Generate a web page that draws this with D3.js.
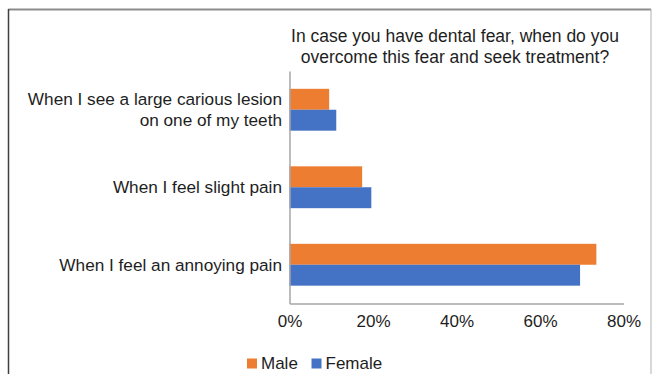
<!DOCTYPE html>
<html>
<head>
<meta charset="utf-8">
<script src="https://cdn.jsdelivr.net/npm/d3@7"></script>
<style>
  html, body { margin: 0; padding: 0; background: #fff; }
  svg { display: block; font-family: "Liberation Sans", Arial, sans-serif; }
</style>
</head>
<body>
<svg id="chart" width="655" height="374"></svg>
<script>
// Answer options (top to bottom), each label split into its display lines
const categories = [
  ["When I see a large carious lesion", "on one of my teeth"],
  ["When I feel slight pain"],
  ["When I feel an annoying pain"]
];
const seriesNames = ["Male", "Female"];
const maleValues = [0.095, 0.174, 0.735];
const femaleValues = [0.112, 0.196, 0.696];
const tickValues = [0, 0.2, 0.4, 0.6, 0.8];
const titleLines = [
  "In case you have dental fear, when do you",
  "overcome this fear and seek treatment?"
];
const colors = { Male: "#ED7D31", Female: "#4472C4" };

const svg = d3.select("#chart");
const textColor = "#1e1e1e";

// Outer frame
svg.append("line").attr("x1", 8.5).attr("x2", 651).attr("y1", 9.5).attr("y2", 9.5)
  .attr("stroke", "#8c8c8c").attr("stroke-width", 2);
svg.append("line").attr("x1", 8.5).attr("x2", 8.5).attr("y1", 9).attr("y2", 374)
  .attr("stroke", "#404040").attr("stroke-width", 1.5);
svg.append("line").attr("x1", 651).attr("x2", 651).attr("y1", 9).attr("y2", 374)
  .attr("stroke", "#b0b0b0").attr("stroke-width", 1);

// Title
const title = svg.append("text")
  .attr("text-anchor", "middle")
  .attr("font-size", 17.5)
  .attr("fill", textColor);
titleLines.forEach((t, i) => {
  title.append("tspan").attr("x", 455).attr("y", 41.5 + i * 21).text(t);
});

// Scales
const x = d3.scaleLinear().domain([0, 0.8]).range([289.5, 623.5]);
const y = d3.scaleBand()
  .domain(d3.range(categories.length))
  .range([71, 303.5])
  .paddingInner(0.46)
  .paddingOuter(0.23);
const ySub = d3.scaleBand().domain(seriesNames).range([0, y.bandwidth()]);

const rows = categories.map((c, i) => ({
  i,
  values: [
    { key: "Male", value: maleValues[i] },
    { key: "Female", value: femaleValues[i] }
  ]
}));

// Bars
const groups = svg.append("g").selectAll("g").data(rows).join("g")
  .attr("transform", d => `translate(0,${y(d.i)})`);
groups.selectAll("rect").data(d => d.values).join("rect")
  .attr("x", x(0))
  .attr("y", d => ySub(d.key))
  .attr("width", d => x(d.value) - x(0))
  .attr("height", ySub.bandwidth())
  .attr("fill", d => colors[d.key]);

// Axes
const xAxis = d3.axisBottom(x).tickValues(tickValues)
  .tickFormat(d3.format(".0%")).tickSize(0).tickPadding(11);
const gx = svg.append("g").attr("transform", `translate(0,${y.range()[1]})`).call(xAxis);
gx.select(".domain").attr("stroke", "#a6a6a6").attr("stroke-width", 1.5);
gx.selectAll("text").attr("font-size", 17).attr("fill", textColor)
  .attr("font-family", "'Liberation Sans', Arial, sans-serif");

const gy = svg.append("g").attr("transform", `translate(${x(0)},0)`)
  .call(d3.axisLeft(y).tickSize(0).tickFormat(""));
gy.select(".domain").attr("stroke", "#a6a6a6").attr("stroke-width", 1.5);

// Category labels (multi-line, right aligned)
const labels = svg.append("g").attr("font-size", 17.2).attr("fill", textColor)
  .attr("text-anchor", "end");
categories.forEach((lines, i) => {
  const cy = y(i) + y.bandwidth() / 2;
  const lh = 21;
  const t = labels.append("text");
  lines.forEach((ln, j) => {
    t.append("tspan").attr("x", 282)
      .attr("y", cy + 6 - (lines.length - 1) * lh / 2 + j * lh)
      .text(ln);
  });
});

// Legend
const legend = svg.append("g").attr("font-size", 17).attr("fill", textColor);
const legendX = [247, 311.5];
seriesNames.forEach((name, i) => {
  legend.append("rect").attr("x", legendX[i]).attr("y", 358.5)
    .attr("width", 10).attr("height", 10).attr("fill", colors[name]);
  legend.append("text").attr("x", legendX[i] + 14).attr("y", 369).text(name);
});
</script>
</body>
</html>
